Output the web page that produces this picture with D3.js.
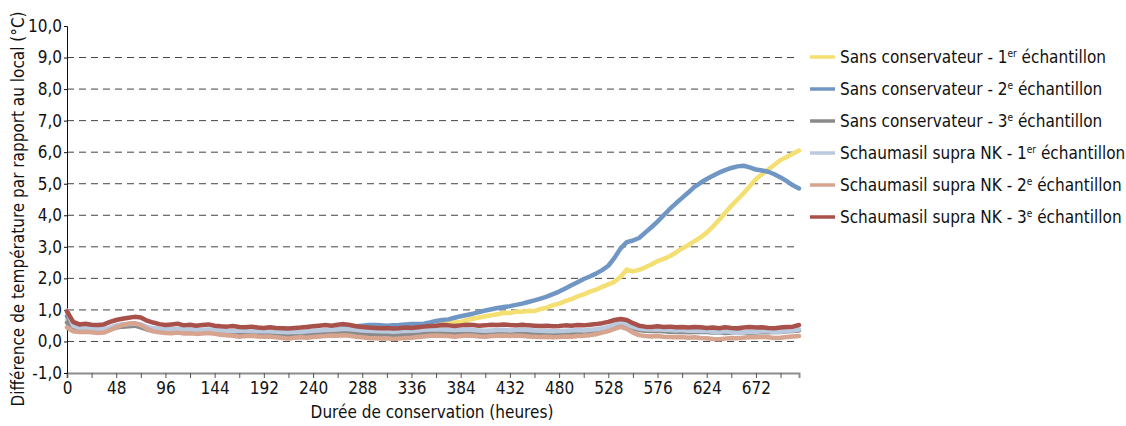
<!DOCTYPE html>
<html>
<head>
<meta charset="utf-8">
<title>Différence de température</title>
<script src="https://d3js.org/d3.v7.min.js"></script>
<style>
  body { margin: 0; background: white; }
  svg { display: block; }
  text { font-family: "Liberation Sans Narrow", "DejaVu Sans Condensed", "Open Sans", sans-serif; fill: #111; }
</style>
</head>
<body>
<svg id="chart"></svg>
<script>
const width = 1126, height = 426;

// hours of storage (one reading every 6 h)
const hours = [
  0,6,12,18,24,30,36,42,48,54,
  60,66,72,78,84,90,96,102,108,114,
  120,126,132,138,144,150,156,162,168,174,
  180,186,192,198,204,210,216,222,228,234,
  240,246,252,258,264,270,276,282,288,294,
  300,306,312,318,324,330,336,342,348,354,
  360,366,372,378,384,390,396,402,408,414,
  420,426,432,438,444,450,456,462,468,474,
  480,486,492,498,504,510,516,522,528,534,
  540,546,552,558,564,570,576,582,588,594,
  600,606,612,618,624,630,636,642,648,654,
  660,666,672,678,684,690,696,702,708,714];

const sans1 = [
  0.70,0.40,0.35,0.37,0.34,0.32,0.31,0.38,0.45,0.48,
  0.50,0.52,0.46,0.40,0.35,0.33,0.31,0.30,0.31,0.29,
  0.30,0.29,0.28,0.29,0.28,0.26,0.25,0.26,0.25,0.27,
  0.28,0.26,0.25,0.24,0.22,0.21,0.20,0.21,0.22,0.24,
  0.25,0.27,0.28,0.29,0.30,0.31,0.30,0.31,0.32,0.31,
  0.30,0.31,0.32,0.34,0.35,0.37,0.38,0.40,0.42,0.46,
  0.50,0.55,0.58,0.60,0.62,0.68,0.72,0.76,0.80,0.83,
  0.86,0.91,0.90,0.95,0.94,0.97,0.96,1.03,1.07,1.15,
  1.20,1.28,1.34,1.43,1.49,1.58,1.64,1.73,1.81,1.89,
  2.05,2.28,2.22,2.27,2.35,2.44,2.55,2.62,2.70,2.82,
  2.95,3.05,3.18,3.30,3.45,3.64,3.85,4.08,4.30,4.50,
  4.70,4.92,5.15,5.30,5.45,5.60,5.75,5.85,5.95,6.05];
const sans2 = [
  0.80,0.45,0.40,0.42,0.40,0.37,0.35,0.42,0.50,0.53,
  0.55,0.56,0.50,0.44,0.40,0.39,0.38,0.37,0.38,0.36,
  0.36,0.35,0.35,0.36,0.35,0.33,0.32,0.31,0.30,0.31,
  0.32,0.31,0.30,0.29,0.28,0.26,0.25,0.27,0.28,0.29,
  0.30,0.31,0.32,0.35,0.38,0.42,0.45,0.48,0.50,0.52,
  0.52,0.51,0.50,0.51,0.52,0.54,0.55,0.55,0.56,0.60,
  0.65,0.68,0.70,0.75,0.80,0.84,0.88,0.93,0.98,1.02,
  1.06,1.09,1.12,1.16,1.20,1.25,1.30,1.36,1.42,1.50,
  1.58,1.68,1.78,1.88,1.98,2.06,2.15,2.26,2.40,2.65,
  2.95,3.15,3.20,3.28,3.45,3.62,3.80,4.00,4.20,4.38,
  4.55,4.72,4.90,5.03,5.15,5.25,5.35,5.43,5.50,5.55,
  5.57,5.52,5.45,5.42,5.38,5.30,5.20,5.08,4.95,4.85];
const sans3 = [
  0.60,0.40,0.36,0.38,0.35,0.33,0.32,0.38,0.44,0.47,
  0.48,0.50,0.45,0.38,0.34,0.33,0.32,0.31,0.33,0.30,
  0.31,0.29,0.30,0.32,0.30,0.27,0.26,0.24,0.21,0.23,
  0.25,0.23,0.22,0.24,0.22,0.20,0.19,0.21,0.20,0.24,
  0.26,0.27,0.28,0.30,0.29,0.31,0.30,0.27,0.25,0.23,
  0.22,0.21,0.20,0.19,0.20,0.22,0.21,0.23,0.25,0.27,
  0.28,0.29,0.27,0.26,0.28,0.30,0.29,0.26,0.25,0.27,
  0.28,0.30,0.29,0.31,0.30,0.28,0.27,0.26,0.25,0.24,
  0.25,0.27,0.26,0.28,0.29,0.31,0.33,0.37,0.42,0.50,
  0.55,0.50,0.42,0.36,0.34,0.33,0.34,0.32,0.31,0.30,
  0.31,0.29,0.30,0.31,0.30,0.28,0.29,0.27,0.28,0.30,
  0.29,0.27,0.28,0.30,0.29,0.31,0.30,0.32,0.33,0.35];
const schaum1 = [
  0.98,0.50,0.43,0.44,0.41,0.40,0.39,0.44,0.50,0.53,
  0.55,0.57,0.54,0.46,0.42,0.40,0.39,0.38,0.39,0.37,
  0.38,0.36,0.37,0.38,0.36,0.35,0.34,0.33,0.34,0.35,
  0.33,0.32,0.33,0.32,0.31,0.30,0.29,0.31,0.30,0.32,
  0.34,0.35,0.36,0.37,0.38,0.40,0.39,0.37,0.35,0.34,
  0.33,0.32,0.33,0.31,0.32,0.33,0.34,0.35,0.37,0.38,
  0.39,0.38,0.37,0.36,0.37,0.38,0.36,0.35,0.34,0.35,
  0.36,0.37,0.35,0.37,0.38,0.36,0.35,0.34,0.33,0.32,
  0.33,0.34,0.35,0.36,0.35,0.37,0.39,0.42,0.46,0.55,
  0.62,0.55,0.46,0.41,0.39,0.38,0.39,0.37,0.36,0.35,
  0.36,0.34,0.35,0.33,0.34,0.31,0.29,0.32,0.30,0.27,
  0.29,0.31,0.30,0.33,0.32,0.30,0.31,0.34,0.35,0.38];
const schaum2 = [
  0.45,0.32,0.30,0.31,0.29,0.27,0.28,0.36,0.45,0.52,
  0.56,0.58,0.52,0.40,0.32,0.29,0.27,0.26,0.28,0.25,
  0.26,0.24,0.25,0.27,0.24,0.21,0.20,0.18,0.15,0.17,
  0.18,0.16,0.15,0.16,0.13,0.11,0.09,0.12,0.13,0.12,
  0.14,0.16,0.17,0.19,0.18,0.20,0.18,0.15,0.13,0.11,
  0.10,0.09,0.10,0.08,0.09,0.11,0.12,0.14,0.16,0.18,
  0.19,0.18,0.17,0.15,0.17,0.19,0.18,0.16,0.15,0.17,
  0.18,0.19,0.17,0.19,0.18,0.16,0.15,0.14,0.15,0.13,
  0.14,0.16,0.15,0.17,0.18,0.20,0.23,0.28,0.33,0.40,
  0.46,0.40,0.28,0.20,0.17,0.16,0.17,0.15,0.14,0.13,
  0.14,0.12,0.13,0.11,0.10,0.08,0.07,0.09,0.11,0.10,
  0.12,0.14,0.13,0.15,0.13,0.11,0.12,0.14,0.16,0.17];
const schaum3 = [
  0.95,0.62,0.54,0.56,0.53,0.52,0.54,0.62,0.68,0.72,
  0.75,0.78,0.76,0.66,0.60,0.55,0.52,0.54,0.56,0.51,
  0.53,0.50,0.52,0.54,0.50,0.48,0.47,0.49,0.46,0.45,
  0.47,0.44,0.43,0.45,0.43,0.42,0.41,0.43,0.44,0.46,
  0.48,0.50,0.52,0.50,0.53,0.55,0.52,0.48,0.46,0.44,
  0.43,0.42,0.43,0.41,0.42,0.44,0.43,0.45,0.47,0.49,
  0.50,0.52,0.51,0.49,0.51,0.53,0.52,0.50,0.51,0.53,
  0.52,0.54,0.52,0.51,0.53,0.51,0.50,0.49,0.50,0.48,
  0.49,0.51,0.50,0.52,0.51,0.53,0.55,0.58,0.62,0.68,
  0.71,0.68,0.58,0.50,0.47,0.46,0.48,0.46,0.47,0.45,
  0.46,0.44,0.46,0.45,0.43,0.44,0.42,0.45,0.43,0.42,
  0.44,0.46,0.44,0.45,0.43,0.42,0.44,0.46,0.47,0.52];

const seriesNames = [
  ["Sans conservateur - 1", "er", " échantillon"],
  ["Sans conservateur - 2", "e", " échantillon"],
  ["Sans conservateur - 3", "e", " échantillon"],
  ["Schaumasil supra NK - 1", "er", " échantillon"],
  ["Schaumasil supra NK - 2", "e", " échantillon"],
  ["Schaumasil supra NK - 3", "e", " échantillon"]
];
const seriesValues = [sans1, sans2, sans3, schaum1, schaum2, schaum3];
const seriesColors = ["#f3df72", "#7097c4", "#8a8a8a", "#b9c9de", "#d6a48f", "#a8504a"];

const yTicks = [-1,0,1,2,3,4,5,6,7,8,9,10];
const gridValues = [0,1,2,3,4,5,6,7,8,9];
const xTicks = [0,24,48,72,96,120,144,168,192,216,240,264,288,312,336,360,384,408,432,456,480,504,528,552,576,600,624,648,672,696];
const xLabels = [0,48,96,144,192,240,288,336,384,432,480,528,576,624,672];

const svg = d3.select("#chart").attr("width", width).attr("height", height);

const x = d3.scaleLinear().domain([0, 714]).range([67, 799]);
const y = d3.scaleLinear().domain([-1, 10]).range([373, 26]);

const fmt = v => d3.format(".1f")(v).replace(".", ",").replace("−", "-");
const tickFont = '"Liberation Sans Narrow", "DejaVu Sans Condensed", sans-serif';

// gridlines
svg.append("g")
  .selectAll("line")
  .data(gridValues)
  .join("line")
  .attr("x1", x(0))
  .attr("x2", x(714))
  .attr("y1", d => y(d))
  .attr("y2", d => y(d))
  .attr("stroke", "#444")
  .attr("stroke-width", 1)
  .attr("stroke-dasharray", "7,5");

// x axis
const xAxis = svg.append("g")
  .attr("transform", `translate(0,${y(-1)})`)
  .call(d3.axisBottom(x).tickValues(xTicks).tickSize(5).tickPadding(4)
    .tickFormat(d => xLabels.includes(d) ? d : ""));
xAxis.select(".domain").attr("stroke", "#8c8c8c").attr("stroke-width", 2);
xAxis.selectAll(".tick line").attr("stroke", "#555");
xAxis.selectAll("text").attr("font-size", "17px").style("font-family", tickFont).attr("fill", "#111");

// y axis
const yAxis = svg.append("g")
  .attr("transform", `translate(${x(0)},0)`)
  .call(d3.axisLeft(y).tickValues(yTicks).tickSize(3).tickPadding(2).tickFormat(fmt));
yAxis.select(".domain").attr("stroke", "#111");
yAxis.selectAll(".tick line").attr("stroke", "#111");
yAxis.selectAll("text").attr("font-size", "17px").style("font-family", tickFont).attr("fill", "#111");

// lines, drawn in series order so the last sample sits on top
const line = d3.line()
  .x((d, i) => x(hours[i]))
  .y(d => y(d));

svg.append("g")
  .selectAll("path")
  .data(seriesValues)
  .join("path")
  .attr("d", d => line(d))
  .attr("fill", "none")
  .attr("stroke", (d, i) => seriesColors[i])
  .attr("stroke-width", 4.5)
  .attr("stroke-linejoin", "round")
  .attr("stroke-linecap", "round");

// axis titles
svg.append("text")
  .attr("transform", `translate(24,${(26 + 392) / 2}) rotate(-90)`)
  .attr("text-anchor", "middle")
  .attr("font-size", "17px")
  .text("Différence de température par rapport au local (°C)");

svg.append("text")
  .attr("x", 432)
  .attr("y", 418)
  .attr("text-anchor", "middle")
  .attr("font-size", "17px")
  .text("Durée de conservation (heures)");

// legend
const legend = svg.append("g")
  .selectAll("g")
  .data(seriesNames)
  .join("g")
  .attr("transform", (d, i) => `translate(810,${57 + i * 32})`);

legend.append("line")
  .attr("x1", 0).attr("x2", 25)
  .attr("stroke", (d, i) => seriesColors[i])
  .attr("stroke-width", 3.5);

const lt = legend.append("text")
  .attr("x", 30)
  .attr("y", 6)
  .attr("font-size", "17px");
lt.append("tspan").text(d => d[0]);
lt.append("tspan").attr("font-size", "10px").attr("dy", -6).text(d => d[1]);
lt.append("tspan").attr("dy", 6).text(d => d[2]);
</script>
</body>
</html>
